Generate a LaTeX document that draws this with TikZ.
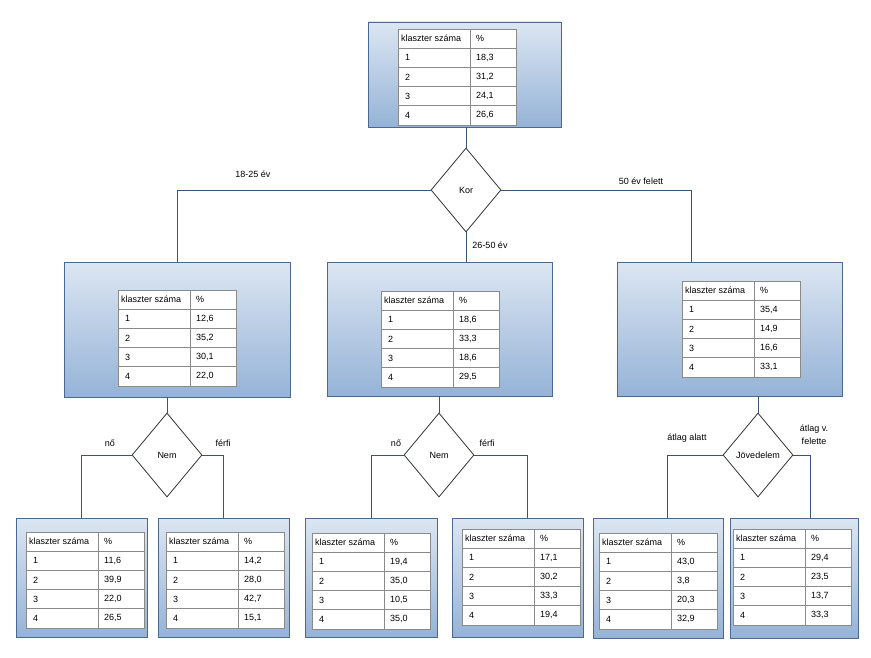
\documentclass[tikz,border=0pt]{standalone}
\usepackage{fontspec}
\setmainfont{Liberation Sans}
\usetikzlibrary{shapes.geometric}

\definecolor{boxtop}{HTML}{DCE6F2}
\definecolor{boxbot}{HTML}{95B3D7}
\definecolor{boxline}{HTML}{4A6890}
\definecolor{vonal}{HTML}{3A5478}
\definecolor{racsszin}{HTML}{8A8A8A}

\tikzset{
	doboz/.style={draw=boxline, line width=0.9pt, top color=boxtop, bottom color=boxbot, inner sep=0pt},
	dontes/.style={diamond, draw=black!80, line width=0.8pt, fill=white, inner sep=0pt, minimum width=70pt, minimum height=84pt, font=\fontsize{9}{10}\selectfont},
	ag/.style={draw=vonal, line width=0.8pt},
	cimke/.style={font=\fontsize{9}{13}\selectfont, inner sep=0pt, align=center},
	cella/.style={font=\fontsize{9}{10}\selectfont, inner sep=0pt, anchor=west},
	racs/.style={draw=racsszin, line width=0.8pt}
}

% table of one cluster split: name, top left corner, four values
\newcommand{\tabla}[7]{%
	\fill[white] (#2,#3) rectangle ++(118,96);
	\foreach \i in {1,...,4}
		\draw[racs] (#2,{#3+19.2*\i}) -- ++(118,0);
	\draw[racs] (#2+72,#3) -- ++(0,96);
	\draw[racs] (#2,#3) rectangle ++(118,96);
	\node[cella] (#1-k) at (#2+3,#3+9.6) {klaszter száma};
	\node[cella] (#1-p) at (#2+78,#3+9.6) {\%};
	\foreach \v [count=\i] in {{#4},{#5},{#6},{#7}} {
		\node[cella] (#1-\i) at (#2+7,{#3+9.6+19.2*\i}) {\i};
		\node[cella] (#1-\i-v) at (#2+78,{#3+9.6+19.2*\i}) {\v};
	}
}

\begin{document}
\begin{tikzpicture}[x=1pt, y=-1pt]
	\useasboundingbox[fill=white] (0,0) rectangle (871,658);

	\node[doboz, minimum width=193pt, minimum height=105pt] (b0) at (464.5,74.5) {};
	\node[doboz, minimum width=226pt, minimum height=135pt] (b1) at (177,329.5) {};
	\node[doboz, minimum width=225pt, minimum height=134pt] (b2) at (439.5,329) {};
	\node[doboz, minimum width=225pt, minimum height=134pt] (b3) at (729.5,329) {};
	\node[doboz, minimum width=131pt, minimum height=119pt] (b4) at (81.5,577.5) {};
	\node[doboz, minimum width=131pt, minimum height=119pt] (b5) at (223.5,577.5) {};
	\node[doboz, minimum width=132pt, minimum height=119pt] (b6) at (371,577.5) {};
	\node[doboz, minimum width=131pt, minimum height=119pt] (b7) at (517.5,577.5) {};
	\node[doboz, minimum width=130pt, minimum height=120pt] (b8) at (658,578) {};
	\node[doboz, minimum width=128pt, minimum height=120pt] (b9) at (794,578) {};

	\tabla{t0}{398}{29}{18,3}{31,2}{24,1}{26,6}
	\tabla{t1}{118}{290}{12,6}{35,2}{30,1}{22,0}
	\tabla{t2}{381}{291}{18,6}{33,3}{18,6}{29,5}
	\tabla{t3}{682}{281}{35,4}{14,9}{16,6}{33,1}
	\tabla{t4}{26}{532}{11,6}{39,9}{22,0}{26,5}
	\tabla{t5}{166}{532}{14,2}{28,0}{42,7}{15,1}
	\tabla{t6}{312}{533}{19,4}{35,0}{10,5}{35,0}
	\tabla{t7}{462}{529}{17,1}{30,2}{33,3}{19,4}
	\tabla{t8}{599}{533}{43,0}{3,8}{20,3}{32,9}
	\tabla{t9}{733}{529}{29,4}{23,5}{13,7}{33,3}

	\node[dontes] (kor) at (466,190) {Kor};
	\node[dontes] (nem1) at (167,455) {Nem};
	\node[dontes] (nem2) at (439,455) {Nem};
	\node[dontes] (jov) at (758,455) {Jövedelem};

	\coordinate (b3in) at (691,262);
	\coordinate (b7in) at (527,518);
	\coordinate (b8in) at (667,518);
	\coordinate (b9in) at (810,518);

	\draw[ag] (kor.north) -- (kor.north |- b0.south);
	\draw[ag] (kor.west) -| (b1.north);
	\draw[ag] (kor.east) -| (b3in);
	\draw[ag] (kor.south) -- (kor.south |- b2.north);

	\draw[ag] (nem1.north) -- (nem1.north |- b1.south);
	\draw[ag] (nem1.west) -| (b4.north);
	\draw[ag] (nem1.east) -| (b5.north);

	\draw[ag] (nem2.north) -- (nem2.north |- b2.south);
	\draw[ag] (nem2.west) -| (b6.north);
	\draw[ag] (nem2.east) -| (b7in);

	\draw[ag] (jov.north) -- (jov.north |- b3.south);
	\draw[ag] (jov.west) -| (b8in);
	\draw[ag] (jov.east) -| (b9in);

	\node[cimke] (l1) at (253,174) {18-25 év};
	\node[cimke] (l2) at (490,245) {26-50 év};
	\node[cimke] (l3) at (641,181) {50 év felett};
	\node[cimke] (l4) at (110,443) {nő};
	\node[cimke] (l5) at (223,443) {férfi};
	\node[cimke] (l6) at (396,443) {nő};
	\node[cimke] (l7) at (487,443) {férfi};
	\node[cimke] (l8) at (687,438) {átlag alatt};
	\node[cimke] (l9) at (814,435) {átlag v.\\felette};
\end{tikzpicture}
\end{document}
